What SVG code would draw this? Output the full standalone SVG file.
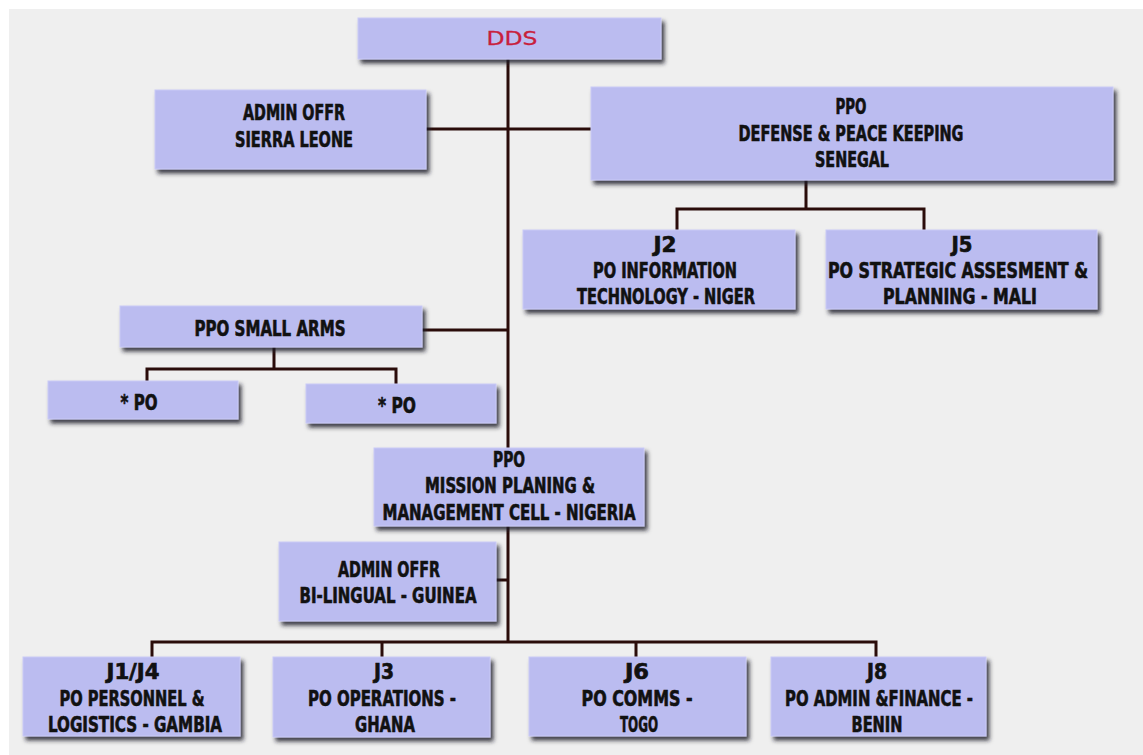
<svg xmlns="http://www.w3.org/2000/svg" width="1143" height="755" viewBox="0 0 1143 755">
  <defs>
    <filter id="shadow" x="-10%" y="-20%" width="130%" height="160%">
      <feDropShadow dx="3" dy="4" stdDeviation="2" flood-color="#1c1c2c" flood-opacity="0.85"/>
    </filter>
    <style>
      .box { fill: #bbbcf0; stroke: #c9caf6; stroke-width: 1; filter: url(#shadow); }
      .lbl { font-family: "DejaVu Sans Condensed", "DejaVu Sans", sans-serif; font-stretch: condensed; font-weight: bold; font-size: 20.5px; fill: #111111; stroke: #111111; stroke-width: 0.6; text-anchor: middle; }
      .top { font-family: "DejaVu Sans", "Liberation Sans", sans-serif; font-size: 20px; fill: #c8203c; stroke: #c8203c; stroke-width: 0.3; text-anchor: middle; }
      .wire { fill: none; stroke: #2a0c0a; stroke-width: 3; }
    </style>
  </defs>

  <!-- page -->
  <rect x="0" y="0" width="1143" height="755" fill="#ffffff"/>
  <rect x="9" y="9" width="1134" height="746" fill="#efefef"/>

  <!-- connectors -->
  <g id="connectors">
    <path class="wire" d="M508,59 V642"/>
    <path class="wire" d="M426,129 H591"/>
    <path class="wire" d="M806,180 V209 M677,230 V209 H924 V230"/>
    <path class="wire" d="M422,330 H508"/>
    <path class="wire" d="M274,347 V369 M147,381 V369 H396 V384"/>
    <path class="wire" d="M496,580 H508"/>
    <path class="wire" d="M152,657 V642 H876 V657 M382,642 V657 M636,642 V657"/>
  </g>

  <!-- nodes -->
  <g id="dds">
    <rect class="box" x="358" y="18" width="303" height="41"/>
    <text class="top" x="512" y="45" textLength="51" lengthAdjust="spacingAndGlyphs">DDS</text>
  </g>

  <g id="admin-sierra-leone">
    <rect class="box" x="155" y="90" width="271" height="79"/>
    <text class="lbl" x="294" y="120" textLength="102" lengthAdjust="spacingAndGlyphs">ADMIN OFFR</text>
    <text class="lbl" x="294" y="147" textLength="118" lengthAdjust="spacingAndGlyphs">SIERRA LEONE</text>
  </g>

  <g id="ppo-defense">
    <rect class="box" x="591" y="87" width="522" height="93"/>
    <text class="lbl" x="851" y="114" textLength="31" lengthAdjust="spacingAndGlyphs">PPO</text>
    <text class="lbl" x="851" y="141" textLength="225" lengthAdjust="spacingAndGlyphs">DEFENSE &amp; PEACE KEEPING</text>
    <text class="lbl" x="852" y="167" textLength="74" lengthAdjust="spacingAndGlyphs">SENEGAL</text>
  </g>

  <g id="j2">
    <rect class="box" x="523" y="230" width="272" height="79"/>
    <text class="lbl" x="665" y="252" textLength="23" lengthAdjust="spacingAndGlyphs">J2</text>
    <text class="lbl" x="665" y="278" textLength="144" lengthAdjust="spacingAndGlyphs">PO INFORMATION</text>
    <text class="lbl" x="666" y="304" textLength="178" lengthAdjust="spacingAndGlyphs">TECHNOLOGY - NIGER</text>
  </g>

  <g id="j5">
    <rect class="box" x="826" y="230" width="271" height="79"/>
    <text class="lbl" x="962" y="252" textLength="21" lengthAdjust="spacingAndGlyphs">J5</text>
    <text class="lbl" x="958" y="278" textLength="260" lengthAdjust="spacingAndGlyphs">PO STRATEGIC ASSESMENT &amp;</text>
    <text class="lbl" x="960" y="304" textLength="154" lengthAdjust="spacingAndGlyphs">PLANNING - MALI</text>
  </g>

  <g id="ppo-small-arms">
    <rect class="box" x="120" y="306" width="302" height="41"/>
    <text class="lbl" x="270" y="336" textLength="151" lengthAdjust="spacingAndGlyphs">PPO SMALL ARMS</text>
  </g>

  <g id="po-left">
    <rect class="box" x="48" y="381" width="190" height="38"/>
    <text class="lbl" x="139" y="410" textLength="37" lengthAdjust="spacingAndGlyphs">* PO</text>
  </g>

  <g id="po-right">
    <rect class="box" x="306" y="384" width="190" height="39"/>
    <text class="lbl" x="397" y="413" textLength="38" lengthAdjust="spacingAndGlyphs">* PO</text>
  </g>

  <g id="ppo-mission">
    <rect class="box" x="374" y="448" width="270" height="78"/>
    <text class="lbl" x="509" y="467" textLength="32" lengthAdjust="spacingAndGlyphs">PPO</text>
    <text class="lbl" x="510" y="493" textLength="170" lengthAdjust="spacingAndGlyphs">MISSION PLANING &amp;</text>
    <text class="lbl" x="509" y="520" textLength="253" lengthAdjust="spacingAndGlyphs">MANAGEMENT CELL - NIGERIA</text>
  </g>

  <g id="admin-bilingual">
    <rect class="box" x="279" y="542" width="217" height="79"/>
    <text class="lbl" x="389" y="577" textLength="102" lengthAdjust="spacingAndGlyphs">ADMIN OFFR</text>
    <text class="lbl" x="388" y="603" textLength="177" lengthAdjust="spacingAndGlyphs">BI-LINGUAL - GUINEA</text>
  </g>

  <g id="j1-j4">
    <rect class="box" x="23" y="657" width="217" height="79"/>
    <text class="lbl" x="133" y="679" textLength="53" lengthAdjust="spacingAndGlyphs">J1/J4</text>
    <text class="lbl" x="132" y="706" textLength="145" lengthAdjust="spacingAndGlyphs">PO PERSONNEL &amp;</text>
    <text class="lbl" x="135" y="732" textLength="174" lengthAdjust="spacingAndGlyphs">LOGISTICS - GAMBIA</text>
  </g>

  <g id="j3">
    <rect class="box" x="273" y="657" width="217" height="80"/>
    <text class="lbl" x="384" y="679" textLength="20" lengthAdjust="spacingAndGlyphs">J3</text>
    <text class="lbl" x="382" y="706" textLength="148" lengthAdjust="spacingAndGlyphs">PO OPERATIONS -</text>
    <text class="lbl" x="385" y="732" textLength="60" lengthAdjust="spacingAndGlyphs">GHANA</text>
  </g>

  <g id="j6">
    <rect class="box" x="529" y="657" width="217" height="79"/>
    <text class="lbl" x="637" y="679" textLength="24" lengthAdjust="spacingAndGlyphs">J6</text>
    <text class="lbl" x="637" y="706" textLength="111" lengthAdjust="spacingAndGlyphs">PO COMMS -</text>
    <text class="lbl" x="639" y="732" textLength="38" lengthAdjust="spacingAndGlyphs">TOGO</text>
  </g>

  <g id="j8">
    <rect class="box" x="771" y="657" width="215" height="79"/>
    <text class="lbl" x="877" y="679" textLength="20" lengthAdjust="spacingAndGlyphs">J8</text>
    <text class="lbl" x="879" y="706" textLength="188" lengthAdjust="spacingAndGlyphs">PO ADMIN &amp;FINANCE -</text>
    <text class="lbl" x="877" y="732" textLength="51" lengthAdjust="spacingAndGlyphs">BENIN</text>
  </g>
</svg>
